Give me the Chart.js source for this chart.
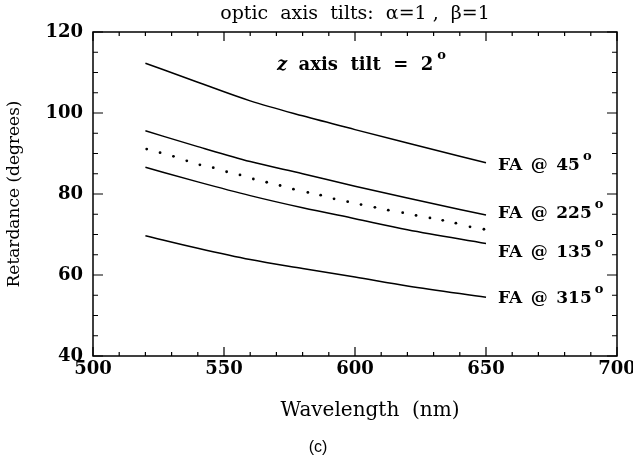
<!DOCTYPE html>
<html>
<head>
<meta charset="utf-8">
<script src="https://cdn.jsdelivr.net/npm/chart.js@4/dist/chart.umd.min.js"></script>
<style>
  html, body { margin: 0; padding: 0; background: #fff; }
  #wrap { width: 633px; height: 468px; }
</style>
</head>
<body>
<div id="wrap"><canvas id="c" width="633" height="468"></canvas></div>
<script>
// ---- data ----
const wavelength = [520, 540, 560, 580, 600, 620, 650];
const fa45  = [112.3, 107.6, 103.0, 99.3, 95.9, 92.6, 87.7];
const fa225 = [95.6, 91.7, 88.0, 85.0, 81.9, 79.0, 74.8];
const fa135 = [86.6, 83.0, 79.6, 76.6, 73.9, 71.2, 67.8];
const fa315 = [69.7, 66.6, 63.8, 61.6, 59.5, 57.3, 54.5];

const dotWavelength = [520.5, 525.6, 530.7, 535.8, 540.8, 545.9, 551.0, 556.1, 561.2, 566.3, 571.4, 576.5, 582.0, 586.9, 592.0, 597.2, 602.3, 607.6, 612.7, 618.2, 623.3, 628.6, 633.5, 638.5, 643.9, 649.2];
const dotValues     = [91.1, 90.2, 89.3, 88.2, 87.2, 86.5, 85.5, 84.7, 83.7, 82.9, 82.1, 81.2, 80.4, 79.7, 78.8, 78.1, 77.4, 76.7, 76.0, 75.4, 74.7, 74.1, 73.5, 72.8, 71.9, 71.3];

const xTickLabels = [500, 550, 600, 650, 700];
const yTickLabels = [40, 60, 80, 100, 120];

const curveLabels = ["FA\u2002@\u200245", "FA\u2002@\u2002225", "FA\u2002@\u2002135", "FA\u2002@\u2002315"];
const curveLabelY = [86.9, 75.1, 65.5, 54.2];

const titleText = "optic  axis  tilts:  \u03b1=1 ,  \u03b2=1";
const xTitle = "\u2003\u2002Wavelength  (nm)";
const yTitle = "Retardance (degrees)";
const panelLabel = "(c)";

// ---- build ----
const toXY = (xs, ys) => xs.map((x, i) => ({x: x, y: ys[i]}));
const SERIF = '"DejaVu Serif", serif';

const lineDs = (data) => ({
  data: data, borderColor: '#000', borderWidth: 1.5, pointRadius: 0,
  fill: false, tension: 0.25, cubicInterpolationMode: 'monotone', showLine: true
});

const decor = {
  id: 'decor',
  afterDraw(chart) {
    const ctx = chart.ctx;
    const xs = chart.scales.x, ys = chart.scales.y;
    const a = chart.chartArea;
    ctx.save();
    // frame
    ctx.strokeStyle = '#000';
    ctx.lineWidth = 1.5;
    ctx.strokeRect(a.left, a.top, a.right - a.left, a.bottom - a.top);
    // inward ticks
    ctx.lineWidth = 1.2;
    ctx.beginPath();
    for (let v = xs.min; v <= xs.max + 0.001; v += 10) {
      const px = xs.getPixelForValue(v);
      const len = (v % 50 === 0) ? 9 : 4;
      ctx.moveTo(px, a.bottom); ctx.lineTo(px, a.bottom - len);
      ctx.moveTo(px, a.top); ctx.lineTo(px, a.top + len);
    }
    for (let v = ys.min; v <= ys.max + 0.001; v += 5) {
      const py = ys.getPixelForValue(v);
      const len = (v % 20 === 0) ? 10 : 5;
      ctx.moveTo(a.left, py); ctx.lineTo(a.left + len, py);
      ctx.moveTo(a.right, py); ctx.lineTo(a.right - len, py);
    }
    ctx.stroke();

    ctx.fillStyle = '#000';
    // title
    ctx.font = '19px ' + SERIF;
    ctx.textAlign = 'center';
    ctx.textBaseline = 'middle';
    ctx.fillText(titleText, (a.left + a.right) / 2, 14);

    // z axis tilt note
    ctx.textAlign = 'left';
    let x0 = 277, y0 = 65;
    ctx.font = 'italic bold 18px ' + SERIF;
    ctx.fillText('z', x0, y0);
    x0 += ctx.measureText('z ').width + 5;
    ctx.font = 'bold 18px ' + SERIF;
    const s = 'axis  tilt  =  2';
    ctx.fillText(s, x0, y0);
    x0 += ctx.measureText(s).width + 4;
    ctx.font = 'bold 13px ' + SERIF;
    ctx.fillText('o', x0, y0 - 9);

    // curve labels
    const lx = xs.getPixelForValue(wavelength[wavelength.length - 1]) + 12;
    curveLabels.forEach((t, i) => {
      const py = ys.getPixelForValue(curveLabelY[i]);
      ctx.font = 'bold 17px ' + SERIF;
      ctx.textAlign = 'left';
      ctx.fillText(t, lx, py);
      const w = ctx.measureText(t).width;
      ctx.font = 'bold 13px ' + SERIF;
      ctx.fillText('o', lx + w + 3, py - 9);
    });

    // panel label
    ctx.font = '16px "Liberation Sans", Arial, sans-serif';
    ctx.textAlign = 'center';
    ctx.fillText(panelLabel, 318, 448);
    ctx.restore();
  }
};

new Chart(document.getElementById('c'), {
  type: 'scatter',
  data: {
    datasets: [
      lineDs(toXY(wavelength, fa45)),
      lineDs(toXY(wavelength, fa225)),
      lineDs(toXY(wavelength, fa135)),
      lineDs(toXY(wavelength, fa315)),
      { data: toXY(dotWavelength, dotValues), showLine: false, pointRadius: 1.4,
        pointBackgroundColor: '#000', pointBorderWidth: 0, borderColor: '#000' }
    ]
  },
  options: {
    responsive: false,
    animation: false,
    devicePixelRatio: 1,
    layout: { padding: { left: 0, right: 16, top: 32, bottom: 0 }, autoPadding: false },
    plugins: { legend: { display: false }, tooltip: { enabled: false } },
    scales: {
      x: {
        type: 'linear', min: 500, max: 700,
        afterBuildTicks: (sc) => { sc.ticks = xTickLabels.map(v => ({value: v})); },
        ticks: { color: '#000', padding: 3, font: { family: SERIF, size: 18, weight: 'bold' } },
        grid: { display: false, drawTicks: false },
        border: { display: false },
        title: { display: true, text: xTitle, color: '#000',
                 font: { family: SERIF, size: 20 }, padding: { top: 0, bottom: 45 } },
        afterFit: (sc) => { sc.height = 112; sc.paddingLeft = 0; sc.paddingRight = 0; }
      },
      y: {
        type: 'linear', min: 40, max: 120,
        afterBuildTicks: (sc) => { sc.ticks = yTickLabels.map(v => ({value: v})); },
        ticks: { color: '#000', padding: 10, font: { family: SERIF, size: 18, weight: 'bold' } },
        grid: { display: false, drawTicks: false },
        border: { display: false },
        title: { display: true, text: yTitle, color: '#000',
                 font: { family: SERIF, size: 17 }, padding: { top: 4, bottom: 0 } },
        afterFit: (sc) => { sc.width = 93; sc.paddingTop = 0; sc.paddingBottom = 0; }
      }
    }
  },
  plugins: [decor]
});
</script>
</body>
</html>
